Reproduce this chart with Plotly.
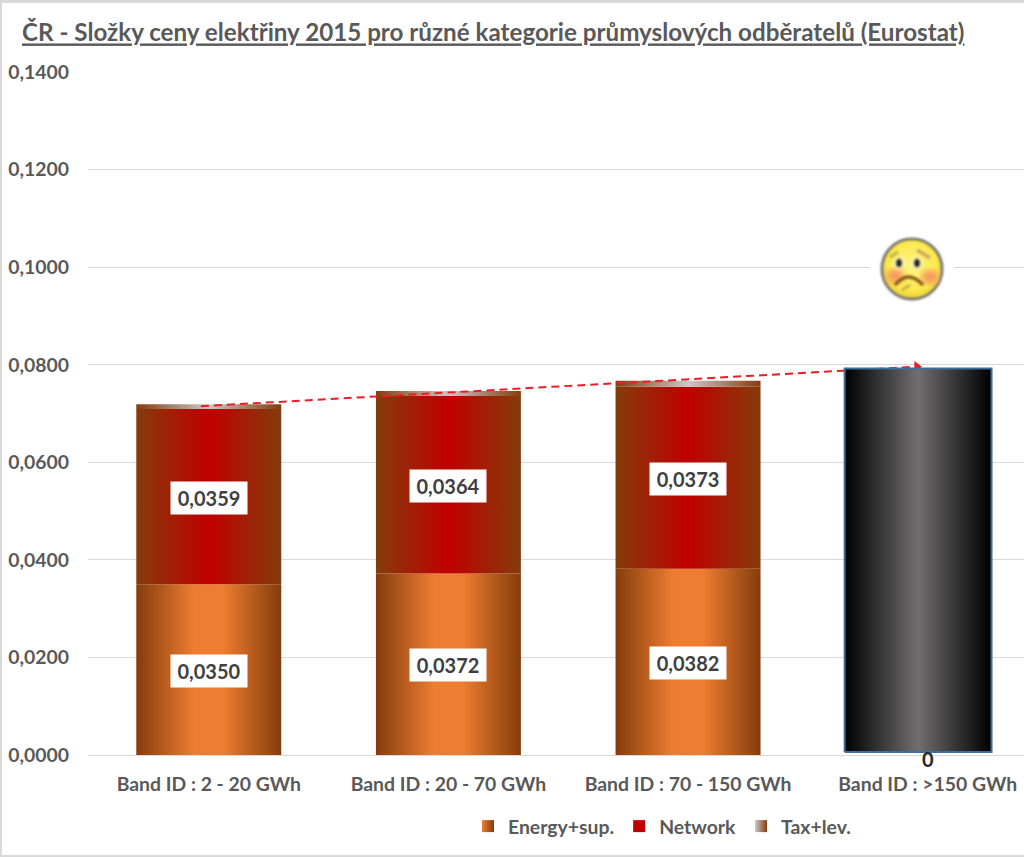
import base64
import plotly.graph_objects as go

title = "<u>ČR - Složky ceny elektřiny 2015 pro různé kategorie průmyslových odběratelů (Eurostat)</u>"
categories = ["Band ID : 2 - 20 GWh", "Band ID : 20 - 70 GWh", "Band ID : 70 - 150 GWh", "Band ID : >150 GWh"]
positions = [0, 1, 2, 3]
energy = [0.0350, 0.0372, 0.0382]
network = [0.0359, 0.0364, 0.0373]
tax = [0.0010, 0.0010, 0.0012]
total_4th_value = 0.0792
total_4th_base = 0.0006
total_4th_center = 2.96
trend_x = [-0.033, 2.955]
trend_y = [0.0715, 0.0796]
y_ticks = [0, 0.02, 0.04, 0.06, 0.08, 0.10, 0.12, 0.14]

W, H = 1024, 857
L, R, T, B = 88, 0, 72, 102
FONT = "Lato"
GREY = "#595959"
half = 0.3025

ENERGY_SCALE = [[0, "#843c0c"], [0.4, "#ed7d31"], [0.6, "#ed7d31"], [1, "#843c0c"]]
NETWORK_SCALE = [[0, "#843c0c"], [0.5, "#c00000"], [1, "#843c0c"]]
TAX_SCALE = [[0, "#843c0c"], [0.5, "#c9c9c9"], [1, "#843c0c"]]
BLACK_SCALE = [[0, "#000000"], [0.5, "#706e6e"], [1, "#000000"]]


def column(xc, hw, lo, hi, scale, name, line=None):
    return go.Scatter(
        x=[xc - hw, xc + hw, xc + hw, xc - hw, xc - hw],
        y=[lo, lo, hi, hi, lo],
        mode="lines",
        fill="toself",
        fillgradient=dict(type="horizontal", colorscale=scale),
        line=line or dict(width=0),
        name=name,
        legendgroup=name,
        showlegend=False,
        hoverinfo="skip",
    )


fig = go.Figure()
for i, p in enumerate(positions[:3]):
    a = energy[i]
    b = a + network[i]
    c = b + tax[i]
    fig.add_trace(column(p, half, 0, a, ENERGY_SCALE, "Energy+sup."))
    fig.add_trace(column(p, half, a, b, NETWORK_SCALE, "Network"))
    fig.add_trace(column(p, half, b, c, TAX_SCALE, "Tax+lev."))

fig.add_trace(go.Scatter(x=trend_x, y=trend_y, mode="lines", showlegend=False, hoverinfo="skip",
                         line=dict(color="#ee1c25", width=2, dash="8px,5px")))
fig.add_trace(go.Scatter(x=trend_x[1:], y=trend_y[1:], mode="markers", showlegend=False, hoverinfo="skip",
                         marker=dict(symbol="triangle-right", size=10, color="#ee1c25", line=dict(width=0))))
fig.add_trace(column(total_4th_center, 0.3065, total_4th_base, total_4th_value, BLACK_SCALE, "total",
                     line=dict(width=2, color="#3f6f9c")))

# legend entries
for name, c0, c1 in [("Energy+sup.", "#ed7d31", "#843c0c"), ("Network", "#c00000", "#c00000"), ("Tax+lev.", "#c9c9c9", "#843c0c")]:
    fig.add_trace(go.Scatter(x=[None], y=[None], mode="markers", name=name, showlegend=True, hoverinfo="skip",
                             marker=dict(symbol="square", size=12, color=c0, line=dict(width=0),
                                         gradient=dict(type="horizontal", color=c1))))

annotations = []
for i, p in enumerate(positions[:3]):
    for val, mid in [(energy[i], energy[i] / 2), (network[i], energy[i] + network[i] / 2)]:
        annotations.append(dict(x=p, y=mid, xref="x", yref="y", showarrow=False, yshift=-1,
                                text=f"{val:.4f}".replace(".", ","), width=74, height=30,
                                bgcolor="#ffffff", align="center", valign="middle",
                                font=dict(family=FONT, size=20, color="#404040", weight="bold")))
annotations.append(dict(x=positions[3], y=0, xref="x", yref="y", showarrow=False, yshift=-4,
                        text="0", font=dict(family=FONT, size=20, color="#262626", weight="bold")))

svg = """<svg xmlns='http://www.w3.org/2000/svg' width='84' height='84' viewBox='0 0 84 84'>
<defs><radialGradient id='f' cx='50%' cy='45%' r='55%'><stop offset='0' stop-color='#fff58a'/><stop offset='.75' stop-color='#fbe84a'/><stop offset='1' stop-color='#e8cf30'/></radialGradient>
<filter id='b'><feGaussianBlur stdDeviation='.8'/></filter><filter id='c'><feGaussianBlur stdDeviation='3'/></filter></defs>
<circle cx='42' cy='40' r='42' fill='#fff'/>
<g filter='url(#b)'><circle cx='42' cy='41' r='30' fill='url(#f)' stroke='#77736a' stroke-width='3'/></g>
<ellipse cx='25' cy='48' rx='9' ry='7' fill='#f79a60' filter='url(#c)'/><ellipse cx='60' cy='49' rx='9' ry='7' fill='#f79a60' filter='url(#c)'/>
<g filter='url(#b)'><path d='M20 29 L28 24' stroke='#c3b94a' stroke-width='3.5'/><path d='M47 22 L60 30' stroke='#d0a860' stroke-width='3.5'/>
<ellipse cx='29' cy='35' rx='5.5' ry='6' fill='#fff7c8'/><ellipse cx='47' cy='35' rx='5.5' ry='6' fill='#fff7c8'/>
<ellipse cx='29' cy='35' rx='3.4' ry='4.5' fill='#2b2a20'/><ellipse cx='47' cy='35' rx='3.4' ry='4.5' fill='#2b2a20'/>
<path d='M25 57 Q38 41 53 57' fill='none' stroke='#8a5a1e' stroke-width='3.4'/>
<path d='M32 62 L40 57' stroke='#c0a640' stroke-width='2.5'/></g>
</svg>"""
uri = "data:image/svg+xml;base64," + base64.b64encode(svg.encode()).decode()

plot_w = W - L - R
plot_h = H - T - B
images = [dict(source=uri, xref="paper", yref="paper",
               x=(870 - L) / plot_w, y=1 - (228 - T) / plot_h,
               sizex=84 / plot_w, sizey=84 / plot_h, sizing="stretch", layer="above",
               xanchor="left", yanchor="top")]

edge = "#d9d9d9"
shapes = [
    dict(type="rect", xref="paper", yref="paper", x0=-L / plot_w, x1=1, y0=1 + T / plot_h, y1=1 + (T - 3) / plot_h,
         fillcolor=edge, line=dict(width=0), layer="below"),
    dict(type="rect", xref="paper", yref="paper", x0=-L / plot_w, x1=(2 - L) / plot_w, y0=-B / plot_h, y1=1 + T / plot_h,
         fillcolor=edge, line=dict(width=0), layer="below"),
    dict(type="rect", xref="paper", yref="paper", x0=-L / plot_w, x1=1, y0=-B / plot_h, y1=(2 - B) / plot_h,
         fillcolor=edge, line=dict(width=0), layer="below"),
]

fig.update_layout(
    width=W, height=H, autosize=False,
    margin=dict(l=L, r=R, t=T, b=B, pad=0),
    paper_bgcolor="#ffffff", plot_bgcolor="#ffffff",
    separators=", ",
    title=dict(text=title, x=22 / W, xanchor="left", y=1 - 33 / H, yanchor="middle",
               font=dict(family=FONT, size=24.2, color=GREY, weight="bold")),
    xaxis=dict(range=[-0.504, 3.402], tickmode="array", tickvals=positions, ticktext=categories,
               showgrid=False, zeroline=False, showline=True, linecolor="#d9d9d9", ticks="",
               ticklabelstandoff=12,
               tickfont=dict(family=FONT, size=19.4, color=GREY, weight="bold")),
    yaxis=dict(range=[0, 0.14], tickmode="array", tickvals=y_ticks, tickformat=".4f",
               showgrid=True, gridcolor="#d9d9d9", gridwidth=1, zeroline=False, showline=False, ticks="",
               ticklabelstandoff=18,
               tickfont=dict(family=FONT, size=19.4, color=GREY, weight="bold")),
    legend=dict(orientation="h", x=(468 - L) / plot_w, xanchor="left", y=-(807 - (H - B)) / plot_h, yanchor="top",
                font=dict(family=FONT, size=19.4, color=GREY, weight="bold"), bgcolor="rgba(0,0,0,0)",
                itemwidth=30, traceorder="normal"),
    annotations=annotations, images=images, shapes=shapes,
)

fig.write_html("out.html", config=dict(displayModeBar=False),
               post_script="document.body.style.margin='0';document.body.style.overflow='hidden';")
